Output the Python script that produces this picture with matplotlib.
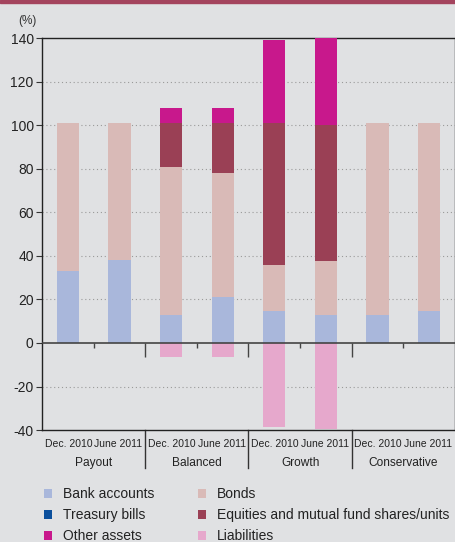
import matplotlib
matplotlib.use("Agg")
import matplotlib.pyplot as plt
from matplotlib.patches import Patch, Rectangle
import numpy as np

plt.rcParams['font.family'] = ['Liberation Sans', 'DejaVu Sans']

groups = ["Payout", "Balanced", "Growth", "Conservative"]
periods = ["Dec. 2010", "June 2011"]
bank_accounts = [33, 38, 13, 21, 14.5, 13, 13, 14.5]
treasury_bills = [0, 0, 0, 0, 0, 0, 0, 0]
bonds = [68, 63, 68, 57, 21.5, 24.5, 88, 86.5]
equities = [0, 0, 20, 23, 65, 62.5, 0, 0]
other_assets = [0, 0, 7, 7, 38, 40, 0, 0]
liabilities = [0, 0, -6.6, -6.6, -38.5, -39.5, 0, 0]

colors = {
    "Bank accounts": "#A9B7DB",
    "Treasury bills": "#0B4F9C",
    "Other assets": "#C8188C",
    "Bonds": "#D9BAB7",
    "Equities and mutual fund shares/units": "#9A4055",
    "Liabilities": "#E6A8CC",
}
bg = "#E0E1E3"

fig = plt.figure(figsize=(4.56, 5.42), dpi=100, facecolor=bg)
ax = fig.add_axes([0.0921, 0.2066, 0.9057, 0.7227], facecolor=bg)

x = np.arange(len(bank_accounts)) + 0.5
w = 0.43
series = [
    (bank_accounts, "Bank accounts"),
    (treasury_bills, "Treasury bills"),
    (bonds, "Bonds"),
    (equities, "Equities and mutual fund shares/units"),
    (other_assets, "Other assets"),
]
bottom = np.zeros(len(x))
for vals, name in series:
    v = np.array(vals, dtype=float)
    ax.bar(x, v, w, bottom=bottom, color=colors[name], linewidth=0, zorder=3)
    bottom += v
ax.bar(x, liabilities, w, color=colors["Liabilities"], linewidth=0, zorder=3)

ax.set_xlim(0, 8)
ax.set_ylim(-40, 140)
ax.set_yticks(range(-40, 141, 20))
ax.set_yticklabels([str(t) for t in range(-40, 141, 20)], fontsize=10)
ax.tick_params(axis='y', length=4, width=0.8, color='#333333', pad=2, labelcolor='#222222')
ax.set_xticks([])
for t in [-20, 20, 40, 60, 80, 100, 120]:
    ax.axhline(t, color='#9a9a9a', lw=0.8, ls=(0, (1, 2.5)), zorder=1)
ax.axhline(0, color='#444444', lw=1.2, zorder=4)
for s in ax.spines.values():
    s.set_color('#222222')
    s.set_linewidth(1.0)

# small ticks below zero line
for xi in [1, 3, 5, 7]:
    ax.plot([xi, xi], [0, -2.3], color='#444444', lw=1.0, zorder=4, solid_capstyle='butt')
for xi in [2, 4, 6]:
    ax.plot([xi, xi], [0, -6.5], color='#444444', lw=1.0, zorder=4, solid_capstyle='butt')

trans = ax.get_xaxis_transform()
for xi in [2, 4, 6]:
    ax.plot([xi, xi], [0, -0.097], color='#333333', lw=1.0, transform=trans, clip_on=False)
for i, xi in enumerate(x):
    ax.text(xi + (0.01 if i % 2 == 0 else -0.02), -0.035, periods[i % 2], transform=trans,
            ha='center', va='center', fontsize=7.5, color='#222222')
for g, name in enumerate(groups):
    ax.text(2 * g + 1, -0.085, name, transform=trans, ha='center', va='center',
            fontsize=8.6, color='#222222')

fig.text(0.06, 0.962, "(%)", fontsize=8.5, color='#333333', ha='center', va='center')

# top bar
fig.patches.append(Rectangle((0, 1 - 3 / 542), 1, 3 / 542, transform=fig.transFigure,
                             color='#A4445E', zorder=0))

order = ["Bank accounts", "Treasury bills", "Other assets", "Bonds",
         "Equities and mutual fund shares/units", "Liabilities"]
handles = [Patch(facecolor=colors[n], edgecolor='none', label=n) for n in order]
fig.legend(handles=handles, loc='upper left', bbox_to_anchor=(0.081, 0.114), ncol=2,
           frameon=False, fontsize=10, handlelength=0.6, handleheight=0.6,
           handletextpad=0.75, columnspacing=3.15, labelspacing=0.5, borderpad=0,
           labelcolor='#222222')

fig.savefig("out.png", dpi=100, facecolor=bg)
